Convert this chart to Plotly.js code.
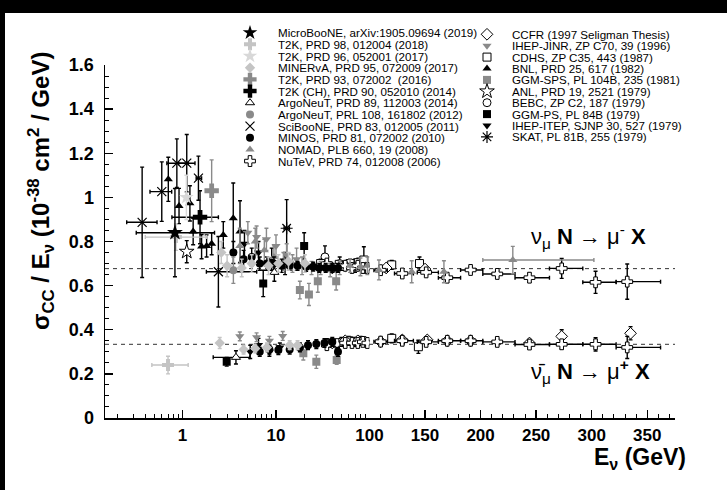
<!DOCTYPE html>
<html><head><meta charset="utf-8">
<script src="https://cdn.plot.ly/plotly-3.0.1.min.js"></script>
<style>
html,body{margin:0;padding:0;background:#000;}
#chart{position:absolute;left:5px;top:13px;width:722px;height:477px;background:#fff;}
</style></head><body>
<div id="chart"></div>
<script>
// ---------------- DATA (E in GeV, sigma/E in 1e-38 cm^2/GeV) ----------------
const uboone_E=[0.83], uboone_S=[0.84], uboone_dS=[0.20], uboone_xm=[0.51], uboone_xp=[1.37];
const t2k98_E=[0.85,0.70], t2k98_S=[0.82,0.24], t2k98_dS=[0.06,0.04], t2k98_xm=[0.45,0.23], t2k98_xp=[0.95,0.45];
const t2k96_E=[1.10], t2k96_S=[1.00], t2k96_dS=[0.10];
const minerva_E=[2.6,3.0,4.3,5.5,8.3,10.6,13.6,20.4, 2.5,4.5,6.0,8.0,14,17];
const minerva_S=[0.75,0.69,0.68,0.70,0.69,0.70,0.71,0.70, 0.34,0.31,0.315,0.32,0.33,0.33];
const minerva_dS=[0.05,0.05,0.04,0.04,0.04,0.04,0.04,0.04, 0.025,0.02,0.02,0.02,0.02,0.02];
const t2k93_E=[2.05], t2k93_S=[1.03], t2k93_dS=[0.14];
const t2kch_E=[1.54], t2kch_S=[0.91], t2kch_dS=[0.12], t2kch_xm=[0.77], t2kch_xp=[0.88];
const argo89_E=[3.73,9.6], argo89_S=[0.275,0.66], argo89_dS=[0.03,0.04], argo89_xm=[1.6,0], argo89_xp=[1.5,0];
const argo108_E=[3.5], argo108_S=[0.67], argo108_dS=[0.06];
const sciboone_E=[0.37,0.60,0.87,1.11,1.48,2.42], sciboone_S=[0.887,1.026,1.155,1.155,1.087,0.663];
const sciboone_dS=[0.25,0.135,0.11,0.13,0.10,0.16], sciboone_xm=[0.117,0.151,0.19,0.2,0.08,0.62], sciboone_xp=[0.164,0.166,0.28,0.25,0.12,3.8];
const minos_E=[3.5,4.5,5.5,6.7,8,9.5,11.5,14,17,21,25,29,34,40,46, 6.7,8.5,10.6,14,18,22,27,33,40,46];
const minos_S=[0.75,0.72,0.73,0.70,0.70,0.70,0.69,0.69,0.69,0.685,0.686,0.68,0.68,0.68,0.68, 0.30,0.31,0.308,0.31,0.32,0.33,0.335,0.34,0.345,0.30];
const minos_dS=[0.05,0.04,0.04,0.03,0.03,0.03,0.03,0.02,0.02,0.02,0.02,0.02,0.02,0.02,0.02, 0.02,0.02,0.02,0.02,0.02,0.02,0.02,0.02,0.02,0.02];
const nomad_E=[4.1,6,7.5,9.5,12,15,19,24,30,38,48,62,80,95,108.5,138,167,229];
const nomad_S=[0.78,0.80,0.76,0.73,0.71,0.70,0.69,0.68,0.68,0.67,0.68,0.69,0.685,0.69,0.671,0.663,0.663,0.716];
const nomad_dS=[0.08,0.06,0.05,0.05,0.04,0.04,0.04,0.03,0.03,0.03,0.03,0.03,0.04,0.04,0.045,0.05,0.05,0.062];
const nomad_xm=[0,0,0,0,0,0,0,0,0,0,0,0,0,0,0,0,0,27], nomad_xp=[0,0,0,0,0,0,0,0,0,0,0,0,0,0,0,0,0,73];
const nutev_E=[35,45,55,65,75,85,95,110,129.5,151,170,191,215,244,273,303.5,332, 35,45,55,65,75,85,95,110,129.5,151,170,191,215,244,273,303.5,332];
const nutev_S=[0.70,0.69,0.69,0.68,0.69,0.68,0.68,0.67,0.655,0.66,0.636,0.671,0.653,0.636,0.678,0.615,0.618, 0.33,0.335,0.34,0.34,0.34,0.345,0.34,0.346,0.35,0.345,0.35,0.35,0.345,0.333,0.334,0.334,0.32];
const nutev_dS=[0.01,0.01,0.01,0.01,0.01,0.01,0.01,0.012,0.012,0.012,0.012,0.015,0.015,0.02,0.045,0.05,0.08, 0.01,0.01,0.01,0.01,0.01,0.01,0.01,0.01,0.01,0.01,0.012,0.012,0.015,0.02,0.02,0.03,0.05];
const nutev_xm=[3,4,5,5,5,5,5,6,7,8,8,9,13,13,11,11.5,10, 3,4,5,5,5,5,5,6,7,8,8,9,13,13,11,11.5,10];
const nutev_xp=[3,4,5,5,5,5,5,6,10,11,12,11,16,18,19,18.5,30, 3,4,5,5,5,5,5,6,10,11,12,11,16,18,19,18.5,30];
const ccfr_E=[40,55,75,90,115,150, 40,55,75,90,110,129.5,152,170,191,244,273,335];
const ccfr_S=[0.68,0.69,0.69,0.68,0.68,0.675, 0.34,0.35,0.35,0.345,0.346,0.354,0.354,0.35,0.35,0.34,0.37,0.384];
const ccfr_dS=[0.01,0.01,0.01,0.01,0.01,0.015, 0.01,0.01,0.01,0.01,0.01,0.01,0.012,0.012,0.012,0.015,0.03,0.03];
const cdhs_E=[30,50,62,76,87,120,145, 40,60,80,120,144];
const cdhs_S=[0.70,0.69,0.70,0.704,0.716,0.694,0.70, 0.34,0.35,0.35,0.361,0.323];
const cdhs_dS=[0.02,0.02,0.02,0.02,0.06,0.02,0.03, 0.02,0.02,0.02,0.02,0.03];
const ihepjinr_E=[5.0,6.2,7.9,10,13,16.6, 4.1,6.2,8.5,11.8];
const ihepjinr_S=[0.84,0.82,0.81,0.78,0.74,0.72, 0.37,0.366,0.35,0.372];
const ihepjinr_dS=[0.05,0.05,0.05,0.05,0.05,0.05, 0.02,0.02,0.02,0.02];
const bnl_E=[0.705,0.918,1.2,1.3,1.6,1.81,2.05,2.73,3.49,4.12];
const bnl_S=[1.082,0.961,0.973,0.845,0.777,0.78,0.79,0.83,0.905,0.845];
const bnl_dS=[0.10,0.08,0.08,0.06,0.055,0.05,0.05,0.06,0.16,0.14];
const ggmsps_E=[18,22.5,28,44, 19.6,27,44.6], ggmsps_S=[0.58,0.56,0.62,0.62, 0.293,0.255,0.263], ggmsps_dS=[0.04,0.05,0.05,0.04, 0.03,0.03,0.02];
const anl_E=[1.11], anl_S=[0.754], anl_dS=[0.05];
const bebc_E=[33.4,48,70, 35,50,70], bebc_S=[0.73,0.70,0.69, 0.34,0.345,0.345], bebc_dS=[0.05,0.03,0.03, 0.02,0.02,0.02];
const ggmps_E=[7.3,20, 2.97], ggmps_S=[0.61,0.78, 0.255], ggmps_dS=[0.06,0.06, 0.02];
const iheptep_E=[4.6,6.5,9,12.5, 5.3,6.5,8.5,11], iheptep_S=[0.79,0.75,0.72,0.70, 0.30,0.331,0.30,0.32], iheptep_dS=[0.06,0.05,0.05,0.05, 0.03,0.03,0.02,0.02];
const skat_E=[13], skat_S=[0.86], skat_dS=[0.13], skat_xm=[0.8], skat_xp=[0.9];
const refLevels=[0.677, 0.334];
const yTicks=[0,0.2,0.4,0.6,0.8,1,1.2,1.4,1.6];
const xLogTicks=[1,10,100], xLogText=['1','10',''];
const xLinTicks=[100,150,200,250,300,350];

// ---------------- STYLES ----------------
const BLK='#000', GRY='#8a8a8a', LGR='#c4c4c4', VLG='#d8d8d8';
const series=[
 {lab:'MicroBooNE, arXiv:1905.09694 (2019)', col:0, E:uboone_E,S:uboone_S,dS:uboone_dS,xm:uboone_xm,xp:uboone_xp, sym:'star', fill:BLK, line:BLK, lw:0, size:12, ec:BLK},
 {lab:'T2K, PRD 98, 012004 (2018)', col:0, E:t2k98_E,S:t2k98_S,dS:t2k98_dS,xm:t2k98_xm,xp:t2k98_xp, sym:'cross', fill:LGR, line:LGR, lw:0, size:10, ec:LGR},
 {lab:'T2K, PRD 96, 052001 (2017)', col:0, E:t2k96_E,S:t2k96_S,dS:t2k96_dS, sym:'star', fill:VLG, line:VLG, lw:0, size:11, ec:VLG},
 {lab:'MINERvA, PRD 95, 072009 (2017)', col:0, E:minerva_E,S:minerva_S,dS:minerva_dS, sym:'diamond', fill:LGR, line:LGR, lw:0, size:8, ec:LGR},
 {lab:'T2K, PRD 93, 072002  (2016)', col:0, E:t2k93_E,S:t2k93_S,dS:t2k93_dS, sym:'cross', fill:GRY, line:GRY, lw:0, size:12, ec:GRY},
 {lab:'T2K (CH), PRD 90, 052010 (2014)', col:0, E:t2kch_E,S:t2kch_S,dS:t2kch_dS,xm:t2kch_xm,xp:t2kch_xp, sym:'cross', fill:BLK, line:BLK, lw:0, size:12, ec:BLK},
 {lab:'ArgoNeuT, PRD 89, 112003 (2014)', col:0, E:argo89_E,S:argo89_S,dS:argo89_dS,xm:argo89_xm,xp:argo89_xp, sym:'triangle-up', fill:'#fff', line:BLK, lw:1, size:8, ec:BLK},
 {lab:'ArgoNeuT, PRL 108, 161802 (2012)', col:0, E:argo108_E,S:argo108_S,dS:argo108_dS, sym:'circle', fill:GRY, line:GRY, lw:0, size:8, ec:GRY},
 {lab:'SciBooNE, PRD 83, 012005 (2011)', col:0, E:sciboone_E,S:sciboone_S,dS:sciboone_dS,xm:sciboone_xm,xp:sciboone_xp, sym:'x-thin-open', fill:BLK, line:BLK, lw:1.2, size:9, ec:BLK},
 {lab:'MINOS, PRD 81, 072002 (2010)', col:0, E:minos_E,S:minos_S,dS:minos_dS, sym:'circle', fill:BLK, line:BLK, lw:0, size:8, ec:BLK},
 {lab:'NOMAD, PLB 660, 19 (2008)', col:0, E:nomad_E,S:nomad_S,dS:nomad_dS,xm:nomad_xm,xp:nomad_xp, sym:'triangle-up', fill:GRY, line:GRY, lw:0, size:8, ec:GRY},
 {lab:'NuTeV, PRD 74, 012008 (2006)', col:0, E:nutev_E,S:nutev_S,dS:nutev_dS,xm:nutev_xm,xp:nutev_xp, sym:'cross', fill:'#fff', line:BLK, lw:1, size:9, ec:BLK},
 {lab:'CCFR (1997 Seligman Thesis)', col:1, E:ccfr_E,S:ccfr_S,dS:ccfr_dS, sym:'diamond', fill:'#fff', line:BLK, lw:1, size:9, ec:BLK},
 {lab:'IHEP-JINR, ZP C70, 39 (1996)', col:1, E:ihepjinr_E,S:ihepjinr_S,dS:ihepjinr_dS, sym:'triangle-down', fill:GRY, line:GRY, lw:0, size:8, ec:GRY},
 {lab:'CDHS, ZP C35, 443 (1987)', col:1, E:cdhs_E,S:cdhs_S,dS:cdhs_dS, sym:'square', fill:'#fff', line:BLK, lw:1, size:8, ec:BLK},
 {lab:'BNL, PRD 25, 617 (1982)', col:1, E:bnl_E,S:bnl_S,dS:bnl_dS, sym:'triangle-up', fill:BLK, line:BLK, lw:0, size:8, ec:BLK},
 {lab:'GGM-SPS, PL 104B, 235 (1981)', col:1, E:ggmsps_E,S:ggmsps_S,dS:ggmsps_dS, sym:'square', fill:GRY, line:GRY, lw:0, size:8, ec:GRY},
 {lab:'ANL, PRD 19, 2521 (1979)', col:1, E:anl_E,S:anl_S,dS:anl_dS, sym:'star', fill:'#fff', line:BLK, lw:1, size:11, ec:BLK},
 {lab:'BEBC, ZP C2, 187 (1979)', col:1, E:bebc_E,S:bebc_S,dS:bebc_dS, sym:'circle', fill:'#fff', line:BLK, lw:1, size:8, ec:BLK},
 {lab:'GGM-PS, PL 84B (1979)', col:1, E:ggmps_E,S:ggmps_S,dS:ggmps_dS, sym:'square', fill:BLK, line:BLK, lw:0, size:8, ec:BLK},
 {lab:'IHEP-ITEP, SJNP 30, 527 (1979)', col:1, E:iheptep_E,S:iheptep_S,dS:iheptep_dS, sym:'triangle-down', fill:BLK, line:BLK, lw:0, size:8, ec:BLK},
 {lab:'SKAT, PL 81B, 255 (1979)', col:1, E:skat_E,S:skat_S,dS:skat_dS,xm:skat_xm,xp:skat_xp, sym:'asterisk-open', fill:BLK, line:BLK, lw:1.2, size:10, ec:BLK}
];

// ---------------- GEOMETRY (page pixels; chart div sits at page (5,13), 722x477) ----------------
const DIVX=5, DIVY=13, DIVW=722, DIVH=477;
const PL=105, PR=675, PT=65, PB=418, PSPLIT=369.5;
const fx=p=>(p-DIVX)/DIVW, fy=p=>(DIVY+DIVH-p)/DIVH;

// ---------------- BUILD ----------------
const FONT='Liberation Sans, Arial, sans-serif';
const traces=[];
function mk(d, s, xa){
  return {type:'scatter', mode:'markers', x:d.x, y:d.y, xaxis:xa, yaxis:'y', cliponaxis:true, hoverinfo:'skip',
    marker:{symbol:s.sym, size:s.size, color:s.fill, line:{color:s.line, width:s.lw}},
    error_y:{type:'data', array:d.e, visible:true, color:s.ec, thickness:1.4, width:2},
    error_x:{type:'data', array:d.xp, arrayminus:d.xm, visible:true, color:s.ec, thickness:1.4, width:2}};
}
const drawOrder=[...series].reverse();
drawOrder.forEach(s=>{
  const lo={x:[],y:[],e:[],xm:[],xp:[]}, hi={x:[],y:[],e:[],xm:[],xp:[]};
  s.E.forEach((E,i)=>{
    const t = E<100 ? lo : hi;
    t.x.push(E); t.y.push(s.S[i]); t.e.push(s.dS[i]);
    t.xm.push(s.xm? s.xm[i]:0); t.xp.push(s.xp? s.xp[i]:0);
  });
  if(lo.x.length) traces.push(mk(lo,s,'x'));
  if(hi.x.length) traces.push(mk(hi,s,'x2'));
});

// legend on a hidden full-page axis pair (x3/y3 in page pixels)
const legX=[250,487], legTX=[277,511], legY0=[32.7,34.3], legDY=[11.67,11.4];
const annotations=[];
const cnt=[0,0];
series.forEach(s=>{
  const c=s.col, i=cnt[c]++;
  const y=legY0[c]+i*legDY[c];
  traces.push({type:'scatter', mode:'markers', x:[legX[c]], y:[y], xaxis:'x3', yaxis:'y3', cliponaxis:false, hoverinfo:'skip',
    marker:{symbol:s.sym, size:Math.min(s.size,11), color:s.fill, line:{color:s.line, width:s.lw}}});
  annotations.push({xref:'x3', yref:'y3', x:legTX[c], y:y, text:s.lab, showarrow:false, xanchor:'left', yanchor:'middle',
    borderpad:0, font:{family:FONT, size:11.6, color:'#000'}});
});

annotations.push({xref:'x3', yref:'y3', x:41, y:191, textangle:-90, showarrow:false, xanchor:'center', yanchor:'middle',
  text:'σ<sub>CC</sub> / E<sub>ν</sub> (10<sup>-38</sup> cm<sup>2</sup> / GeV)', font:{family:FONT, size:24, color:'#000', weight:'bold'}});
annotations.push({xref:'x3', yref:'y3', x:688, y:458, showarrow:false, xanchor:'right', yanchor:'middle',
  text:'E<sub>ν</sub> (GeV)', font:{family:FONT, size:23, color:'#000', weight:'bold'}});
annotations.push({xref:'x3', yref:'y3', x:588, y:236, showarrow:false, xanchor:'center', yanchor:'middle',
  text:'ν<sub>μ</sub> <b>N</b> → μ<sup>-</sup> <b>X</b>', font:{family:FONT, size:22, color:'#000'}});
annotations.push({xref:'x3', yref:'y3', x:590, y:371, showarrow:false, xanchor:'center', yanchor:'middle',
  text:'ν̄<sub>μ</sub> <b>N</b> → μ<sup><b>+</b></sup> <b>X</b>', font:{family:FONT, size:22, color:'#000'}});

const shapes=refLevels.map(L=>({type:'line', xref:'x3', x0:PL, x1:PR, yref:'y', y0:L, y1:L, layer:'below',
  line:{color:'#333', width:1, dash:'4px,4px'}}));

const minorLog=[], minorLin=[], minorY=[];
[0.1,1,10].forEach(d=>{for(let k=2;k<=9;k++) minorLog.push(k*d);});
for(let v=110; v<=370; v+=10) minorLin.push(v);
for(let v=0; v<=1.6001; v+=0.05) minorY.push(+v.toFixed(2));

const tickFont={family:FONT, size:17, color:'#000', weight:'bold'};
const axBase={showline:true, linecolor:'#000', linewidth:1.5, ticks:'inside', ticklen:8, tickwidth:1.3, tickcolor:'#000',
  showgrid:false, zeroline:false, tickfont:tickFont, fixedrange:true, automargin:false};
const layout={
  width:DIVW, height:DIVH, margin:{l:0, r:0, t:0, b:0, pad:0},
  paper_bgcolor:'#fff', plot_bgcolor:'rgba(0,0,0,0)', showlegend:false,
  xaxis:Object.assign({}, axBase, {type:'log', domain:[fx(PL),fx(PSPLIT)], range:[-0.829,2], anchor:'y',
    tickmode:'array', tickvals:xLogTicks, ticktext:xLogText, ticklabelstandoff:1,
    minor:{ticks:'inside', ticklen:4, tickwidth:1, tickcolor:'#000', tickmode:'array', tickvals:minorLog, showgrid:false}}),
  xaxis2:Object.assign({}, axBase, {type:'linear', domain:[fx(PSPLIT),fx(PR)], range:[100,375], anchor:'y',
    tickmode:'array', tickvals:xLinTicks, ticklabelstandoff:1,
    minor:{ticks:'inside', ticklen:4, tickwidth:1, tickcolor:'#000', tickmode:'array', tickvals:minorLin, showgrid:false}}),
  yaxis:Object.assign({}, axBase, {range:[0,1.6], domain:[fy(PB),fy(PT)], anchor:'x', tickmode:'array', tickvals:yTicks,
    ticklabelstandoff:6, tickfont:Object.assign({}, tickFont, {size:18}),
    minor:{ticks:'inside', ticklen:4, tickwidth:1, tickcolor:'#000', tickmode:'array', tickvals:minorY, showgrid:false}}),
  xaxis3:{domain:[0,1], range:[DIVX, DIVX+DIVW], anchor:'y3', visible:false, fixedrange:true},
  yaxis3:{domain:[0,1], range:[DIVY+DIVH, DIVY], anchor:'x3', visible:false, fixedrange:true},
  shapes:shapes, annotations:annotations
};
Plotly.newPlot('chart', traces, layout, {staticPlot:true, displayModeBar:false});
</script></body></html>
